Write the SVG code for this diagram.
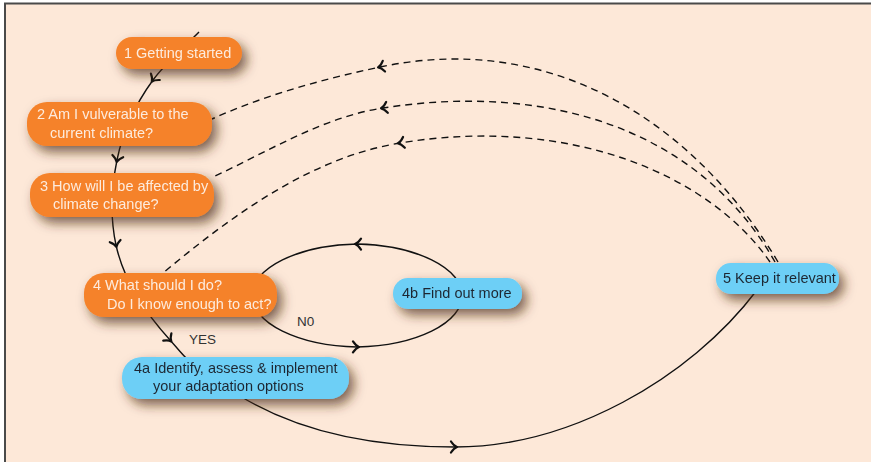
<svg xmlns="http://www.w3.org/2000/svg" width="871" height="462" viewBox="0 0 871 462">
<defs>
<style>
.bg{fill:#FDE8D8}
.frame{stroke:#4a4a4a;stroke-width:2;fill:none}
.or{fill:#F5822A}
.bl{fill:#6DCFF6}
.tw{font-family:"Liberation Sans",Arial,sans-serif;font-size:14.5px;fill:#FDEBDD}
.td{font-family:"Liberation Sans",Arial,sans-serif;font-size:14.5px;fill:#1E2833}
.lbl{font-family:"Liberation Sans",Arial,sans-serif;font-size:13.5px;fill:#333}
.ln{fill:none;stroke:#111;stroke-width:1.4}
.dash{fill:none;stroke:#111;stroke-width:1.4;stroke-dasharray:7 5}
.arr{marker-mid:url(#chev)}
</style>
<filter id="sh" x="-30%" y="-50%" width="160%" height="220%">
<feDropShadow dx="5" dy="6" stdDeviation="6" flood-color="#4a2c14" flood-opacity="0.7"/>
</filter>
<marker id="chev" viewBox="-7 -7 14 14" markerWidth="14" markerHeight="14" markerUnits="userSpaceOnUse" orient="auto" refX="0" refY="0">
<path d="M-4,-5.5 Q-1,-1 2,0 Q-1,1 -4,5.5" fill="none" stroke="#111" stroke-width="2.2" stroke-linecap="round" stroke-linejoin="round"/>
</marker>
</defs>
<rect class="bg" x="5" y="4" width="866" height="458"/>
<line class="frame" x1="4" y1="3.5" x2="871" y2="3.5"/>
<line class="frame" x1="5" y1="3" x2="5" y2="462"/>

<g id="connectors">
<path class="ln arr" d="M199,32 C183.6,47.8 166,62.2 153,80 C135.9,103.5 122.8,131.6 117,160 C111.4,187.4 110.1,217.6 116,245 C123.6,280.3 145.9,313.4 170,340 C176,346.7 181.5,353.8 188,360"/>
<path class="ln arr" d="M240,396 C303,434.5 381,447 455,447 C568,447 689,380 757,290"/>
<path class="ln arr" d="M252,295.5 A110,51.5 0 0 0 357,346.95 A110,51.5 0 0 0 357,244.05 A110,51.5 0 0 0 252,295.5"/>
<path class="dash arr" d="M778,262 C690,115 545,32 380,67 C322,79.4 265,95 212,119"/>
<path class="dash arr" d="M775,262 C700,130 550,82 383,108 C323,117 268.5,151.4 213,177"/>
<path class="dash arr" d="M770,262 C710,175 570,115 400,143 C311,157.6 232,215.4 163,273"/>
</g>

<g id="n1" filter="url(#sh)">
<rect class="or" x="116" y="37" width="126" height="32" rx="16"/>
<text class="tw" x="124" y="58">1 Getting started</text>
</g>
<g id="n2" filter="url(#sh)">
<rect class="or" x="27" y="102" width="185" height="44" rx="20"/>
<text class="tw" x="37" y="119">2 Am I vulverable to the</text>
<text class="tw" x="50" y="138">current climate?</text>
</g>
<g id="n3" filter="url(#sh)">
<rect class="or" x="30" y="173" width="184" height="44" rx="20"/>
<text class="tw" x="40" y="191">3 How will I be affected by</text>
<text class="tw" x="53" y="209">climate change?</text>
</g>
<g id="n4" filter="url(#sh)">
<rect class="or" x="84" y="273" width="193" height="44" rx="20"/>
<text class="tw" x="93" y="290">4 What should I do?</text>
<text class="tw" x="107" y="309">Do I know enough to act?</text>
</g>
<g id="n4a" filter="url(#sh)">
<rect class="bl" x="122" y="357" width="227" height="42" rx="20"/>
<text class="td" x="134" y="373">4a Identify, assess &amp; implement</text>
<text class="td" x="153" y="391">your adaptation options</text>
</g>
<g id="n4b" filter="url(#sh)">
<rect class="bl" x="393" y="278" width="129" height="31" rx="15"/>
<text class="td" x="402" y="298">4b Find out more</text>
</g>
<g id="n5" filter="url(#sh)">
<rect class="bl" x="716" y="263" width="123" height="31" rx="15"/>
<text class="td" x="723" y="283">5 Keep it relevant</text>
</g>
<g id="labels">
<text class="lbl" x="189" y="344">YES</text>
<text class="lbl" x="297" y="326">N0</text>
</g>
</svg>
